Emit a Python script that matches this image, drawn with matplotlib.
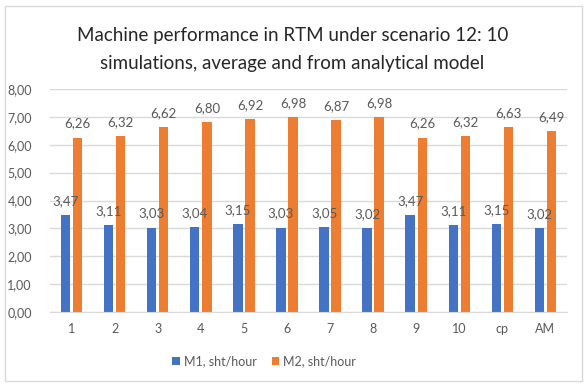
import numpy as np
from matplotlib import pyplot as plt
from matplotlib.patches import Rectangle
from matplotlib.ticker import FuncFormatter

cats = ['1','2','3','4','5','6','7','8','9','10','cp','AM']
m1 = [3.47,3.11,3.03,3.04,3.15,3.03,3.05,3.02,3.47,3.11,3.15,3.02]
m2 = [6.26,6.32,6.62,6.80,6.92,6.98,6.87,6.98,6.26,6.32,6.63,6.49]
labels = ['M1, sht/hour','M2, sht/hour']

blue = '#4472C4'
orange = '#ED7D31'
grey = '#595959'

plt.rcParams['font.family'] = ['Lato','DejaVu Sans']

fig = plt.figure(figsize=(5.85,3.84),dpi=100)
fig.patches.append(Rectangle((5/585,3/384),577/585,375/384,transform=fig.transFigure,
                             fill=False,edgecolor='#D9D9D9',linewidth=1))
ax = fig.add_axes((50/585,1-312/384,517/585,223/384))

x = np.arange(len(cats))
w = 0.22
b1 = ax.bar(x-0.14,m1,w,color=blue,label=labels[0],zorder=2)
b2 = ax.bar(x+0.14,m2,w,color=orange,label=labels[1],zorder=2)

def fmt(v):
    return '{:.2f}'.format(v).replace('.',',')

for bars in [b1,b2]:
    for r in bars:
        ax.annotate(fmt(r.get_height()),(r.get_x()+r.get_width()/2,r.get_height()),
                    xytext=(0,10),textcoords='offset points',ha='center',va='center',
                    fontsize=9.5,color=grey,zorder=3)

ax.set_ylim(0,8)
ax.set_yticks(np.arange(0,9,1))
ax.yaxis.set_major_formatter(FuncFormatter(lambda v,p: fmt(v)))
ax.set_xlim(-0.5,len(cats)-0.5)
ax.set_xticks(x)
ax.set_xticklabels(cats)
ax.grid(axis='y',color='#D9D9D9',linewidth=1,zorder=0)
for s in ['top','right','left']:
    ax.spines[s].set_visible(False)
ax.spines['bottom'].set_color('#D9D9D9')
ax.tick_params(length=0,labelsize=9,colors=grey,pad=8)
ax.tick_params(axis='y',pad=13)

fig.text(0.5,1-35/384,'Machine performance in RTM under scenario 12: 10',ha='center',va='center',size=13.5,color='#262626')
fig.text(0.5,1-64/384,'simulations, average and from analytical model',ha='center',va='center',size=13.5,color='#262626')

fig.legend(loc='center',bbox_to_anchor=(264/585,1-361/384),ncol=2,frameon=False,
           fontsize=9,handlelength=0.6,handleheight=0.6,handletextpad=0.3,columnspacing=1.2,
           labelcolor=grey)

plt.savefig('out.png')
